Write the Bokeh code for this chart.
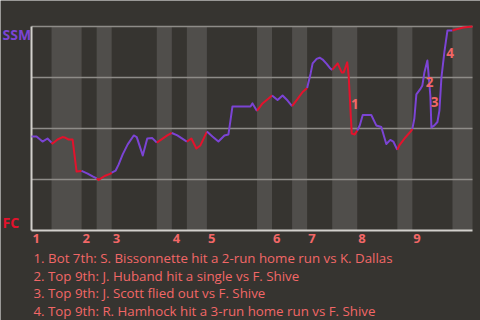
from bisect import bisect_left
from bokeh.plotting import figure
from bokeh.models import Range1d
from bokeh.embed import file_html
from bokeh.resources import INLINE
from bokeh.core.properties import value

# ---------------- data ----------------
half_starts = [0, 4, 10, 13, 16, 25, 28, 31, 35, 45, 48, 52, 55, 60, 65, 73, 76, 84]
game_end = 88
inning_labels = ["1", "2", "3", "4", "5", "6", "7", "8", "9"]
team_top = "SSM"
team_bottom = "FC"

play = [0.0, 1.0, 2.2, 3.2, 4.0,
        4.2, 5.2, 6.2, 6.6, 7.4, 8.2, 9.0, 10.0,
        11.2, 12.2, 13.0,
        13.4, 14.6, 15.8, 16.0,
        16.8, 17.4, 18.2, 19.2, 20.4, 21.0, 22.2, 23.1, 24.1, 25.0,
        26.1, 27.1, 28.0,
        29.1, 31.0,
        31.9, 32.9, 33.7, 35.0,
        36.1, 37.3, 38.5, 39.3, 39.7, 40.1, 43.7, 44.1, 45.0,
        46.1, 47.3, 48.0,
        49.1, 50.1, 51.1, 52.0,
        53.1, 54.1, 55.0,
        55.7, 56.1, 56.9, 57.5, 58.1, 58.9, 59.5, 60.0,
        61.1, 61.9, 62.3, 63.0, 63.3, 63.9, 64.5, 65.0,
        65.5, 66.1, 67.8, 68.8, 69.8, 70.8, 71.6, 72.2, 73.0,
        73.4, 74.6, 75.8, 76.0,
        76.4, 76.8, 77.6, 78.0, 78.4, 79.0, 79.2, 79.6, 79.8, 80.4, 81.0, 81.4, 81.8, 82.4, 83.0, 84.0,
        84.6, 86.2, 88.0]

wp_ssm = [0.461, 0.461, 0.436, 0.451, 0.431,
          0.426, 0.446, 0.458, 0.456, 0.446, 0.446, 0.289, 0.292,
          0.279, 0.265, 0.255,
          0.248, 0.267, 0.279, 0.284,
          0.294, 0.324, 0.373, 0.422, 0.466, 0.458, 0.368, 0.451, 0.453, 0.431,
          0.449, 0.466, 0.478,
          0.466, 0.436,
          0.451, 0.402, 0.417, 0.485,
          0.461, 0.436, 0.466, 0.471, 0.539, 0.608, 0.608, 0.623, 0.586,
          0.623, 0.647, 0.662,
          0.640, 0.662, 0.637, 0.610,
          0.645, 0.679, 0.699,
          0.770, 0.819, 0.841, 0.847, 0.838, 0.817, 0.798, 0.787,
          0.819, 0.775, 0.775, 0.824, 0.755, 0.475, 0.471, 0.490,
          0.515, 0.566, 0.566, 0.515, 0.507, 0.424, 0.444, 0.436, 0.395,
          0.417, 0.456, 0.490, 0.498,
          0.549, 0.667, 0.694, 0.711, 0.775, 0.833, 0.775, 0.657, 0.505, 0.515, 0.532, 0.588, 0.750, 0.877, 0.980, 0.980,
          0.985, 0.995, 1.0]

ann_labels = ["1", "2", "3", "4"]
ann_x = [64.55, 79.42, 80.42, 83.51]
ann_y = [0.619, 0.730, 0.632, 0.869]

captions = [
    "1. Bot 7th: S. Bissonnette hit a 2-run home run vs K. Dallas",
    "2. Top 9th: J. Huband hit a single vs F. Shive",
    "3. Top 9th: J. Scott flied out vs F. Shive",
    "4. Top 9th: R. Hamhock hit a 3-run home run vs F. Shive",
]

# ---------------- style / layout ----------------
BG = "#363430"
BAND = "#504e4b"
GRID = "#8e8c88"
AXIS = "#d2d0cc"
PURPLE = "#7b44d4"
RED = "#e3122c"
SALMON = "#f26767"
FONT = "Open Sans"

W, H = 480, 320
PLOT_L, PLOT_R, PLOT_T, PLOT_B = 31, 472, 26, 230
sx = (PLOT_R - PLOT_L) / game_end
sy = (PLOT_B - PLOT_T) / 1.0


def px2x(px):
    return (px - PLOT_L) / sx


def py2y(py):
    return (PLOT_B - py) / sy


p = figure(width=W, height=H, output_backend="svg", toolbar_location=None,
           x_range=Range1d(px2x(0), px2x(W)), y_range=Range1d(py2y(H), py2y(0)),
           x_axis_type=None, y_axis_type=None, min_border=0,
           background_fill_color=BG, border_fill_color=BG, outline_line_color=None)
p.grid.visible = False

# bottom-half inning bands
bounds = half_starts + [game_end]
band_l = [bounds[i] for i in range(1, len(half_starts), 2)]
band_r = [bounds[i + 1] for i in range(1, len(half_starts), 2)]
p.quad(left=band_l, right=band_r, bottom=0, top=1, fill_color=BAND, line_color=None)

# grid lines
grid_vals = [0.25, 0.5, 0.75, 1.0]
p.segment(x0=[0] * len(grid_vals), x1=[game_end] * len(grid_vals), y0=grid_vals, y1=grid_vals,
          line_color=GRID, line_width=1.5)
# axes
p.segment(x0=[0, 0], x1=[game_end, 0], y0=[0, 0], y1=[0, 1], line_color=AXIS, line_width=2)

# win probability line, coloured by half inning
segs = [[] for _ in half_starts]
for x, y in zip(play, wp_ssm):
    h = max(bisect_left(half_starts, x) - 1, 0)
    segs[h].append((x, y))
xs, ys, cols = [], [], []
prev = None
for h, pts in enumerate(segs):
    if not pts:
        continue
    if prev is not None:
        pts = [prev] + pts
    xs.append([a for a, _ in pts])
    ys.append([b for _, b in pts])
    cols.append(PURPLE if h % 2 == 0 else RED)
    prev = pts[-1]
p.multi_line(xs=xs, ys=ys, line_color=cols, line_width=2, line_join="round")

# team labels
p.text(x=[px2x(2)], y=[py2y(33.5)], text=[team_top], text_color=PURPLE,
       text_font=value(FONT), text_font_size="14px", text_font_style="bold",
       text_baseline="middle", text_align="left")
p.text(x=[px2x(2)], y=[py2y(221.5)], text=[team_bottom], text_color=RED,
       text_font=value(FONT), text_font_size="14px", text_font_style="bold",
       text_baseline="middle", text_align="left")

# inning labels
inning_x = [half_starts[i] for i in range(0, len(half_starts), 2)]
p.text(x=inning_x, y=[py2y(237.5)] * len(inning_x), text=inning_labels, text_color=SALMON,
       text_font=value(FONT), text_font_size="13px", text_font_style="bold",
       text_baseline="middle", text_align="left", x_offset=1)

# event annotations
p.text(x=ann_x, y=ann_y, text=ann_labels, text_color=SALMON,
       text_font=value(FONT), text_font_size="13.5px", text_font_style="bold",
       text_baseline="middle", text_align="center")

# captions
cap_y = [py2y(257.5 + 17.7 * i) for i in range(len(captions))]
p.text(x=[px2x(33)] * len(captions), y=cap_y, text=captions, text_color=SALMON,
       text_font=value(FONT), text_font_size="13.3px",
       text_baseline="alphabetic", text_align="left")

open("out.html", "w").write(file_html(p, INLINE))
